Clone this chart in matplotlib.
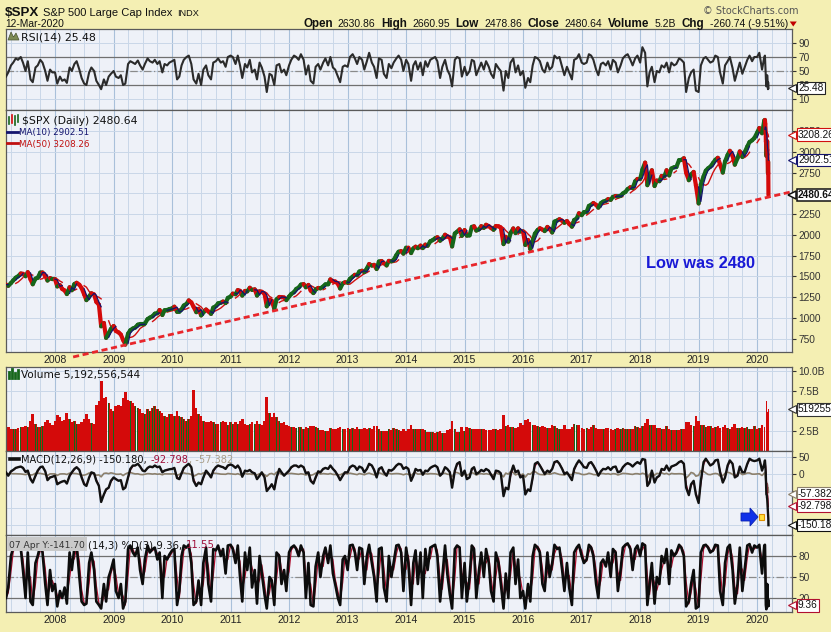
import numpy as np
import pandas as pd
import matplotlib
matplotlib.use('Agg')
import matplotlib.pyplot as plt
import matplotlib.dates as mdates
from matplotlib.collections import LineCollection
from matplotlib.patches import Polygon, Rectangle
from matplotlib.lines import Line2D
from matplotlib.transforms import IdentityTransform, blended_transform_factory

plt.rcParams['font.family'] = ['DejaVu Sans']

# ---------------- data (semi-monthly samples, then daily for the Feb/Mar 2020 drop) ----------------
semi_dates = pd.date_range('2007-03-01', '2020-02-15', freq='SMS')
crash_dates = pd.to_datetime(['2020-02-19', '2020-02-21', '2020-02-24', '2020-02-25', '2020-02-26',
                              '2020-02-27', '2020-02-28', '2020-03-02', '2020-03-03', '2020-03-04',
                              '2020-03-05', '2020-03-06', '2020-03-09', '2020-03-10', '2020-03-11',
                              '2020-03-12'])

close_semi = [
    1403, 1387, 1421, 1452, 1486, 1501, 1536, 1532, 1503, 1552, 1465, 1406, 1474, 1484, 1547, 1548, 1508, 1451, 1481, 1468,
    1468, 1380, 1395, 1349, 1331, 1288, 1370, 1334, 1409, 1424, 1400, 1360, 1284, 1215, 1260, 1298, 1283, 1193, 1161, 900, 940, 760, 816, 868,
    903, 843, 826, 800, 735, 680, 811, 852, 873, 883, 919, 923, 923, 932, 987, 1004, 1021, 1052, 1057, 1096, 1036, 1093, 1096, 1107,
    1115, 1136, 1074, 1075, 1104, 1150, 1169, 1212, 1187, 1135, 1070, 1110, 1031, 1065, 1102, 1079, 1049, 1125, 1141, 1176, 1183, 1198, 1180, 1242,
    1258, 1293, 1286, 1336, 1327, 1270, 1326, 1320, 1364, 1338, 1345, 1270, 1321, 1316, 1292, 1140, 1219, 1209, 1110, 1224, 1253, 1251, 1247, 1215,
    1258, 1289, 1312, 1350, 1366, 1402, 1408, 1370, 1398, 1330, 1300, 1342, 1362, 1357, 1379, 1405, 1406, 1465, 1441, 1440, 1412, 1355, 1416, 1430,
    1426, 1472, 1498, 1520, 1515, 1560, 1569, 1552, 1597, 1650, 1631, 1640, 1590, 1680, 1686, 1661, 1633, 1688, 1682, 1698, 1757, 1798, 1806, 1775,
    1848, 1848, 1782, 1838, 1859, 1841, 1872, 1842, 1884, 1870, 1924, 1937, 1960, 1973, 1931, 1955, 2003, 1984, 1972, 1862, 2018, 2039, 2068, 1990,
    2059, 1992, 1995, 2097, 2105, 2053, 2068, 2106, 2086, 2123, 2107, 2084, 2063, 2108, 2104, 2091, 1890, 1978, 1920, 2023, 2079, 2023, 2080, 2043,
    2044, 1880, 1940, 1830, 1932, 2016, 2060, 2081, 2065, 2047, 2097, 2072, 2030, 2161, 2174, 2190, 2171, 2147, 2168, 2133, 2100, 2180, 2199, 2262,
    2239, 2275, 2279, 2350, 2364, 2385, 2363, 2329, 2384, 2402, 2412, 2432, 2423, 2459, 2470, 2465, 2472, 2500, 2519, 2553, 2575, 2565, 2648, 2675,
    2674, 2786, 2872, 2600, 2714, 2780, 2590, 2656, 2648, 2711, 2705, 2780, 2718, 2801, 2816, 2818, 2902, 2904, 2925, 2750, 2660, 2730, 2760, 2600,
    2380, 2610, 2706, 2775, 2803, 2822, 2867, 2905, 2930, 2850, 2752, 2886, 2964, 3014, 2953, 2847, 2926, 3007, 2940, 2995, 3066, 3120, 3141, 3168,
    3231, 3289, 3226, 3380,
]
close_crash = [3386, 3338, 3226, 3128, 3116, 2979, 2954, 3090, 3003, 3130, 3024, 2972, 2747, 2882, 2741, 2480.64]

volume_semi = [  # billions
    2.9, 3.0, 2.8, 2.7, 2.8, 2.9, 3.0, 3.0, 3.1, 3.0, 3.8, 4.6, 3.4, 3.0, 3.0, 3.1, 3.6, 3.9, 3.5, 3.3,
    3.8, 4.5, 4.3, 3.8, 3.9, 4.8, 4.0, 3.6, 3.7, 3.4, 3.4, 3.6, 4.0, 4.6, 4.0, 3.5, 3.4, 5.8, 6.2, 8.8, 6.6, 6.8, 6.0, 5.2,
    5.0, 5.6, 5.8, 5.6, 6.6, 7.4, 6.4, 6.2, 6.0, 5.6, 5.4, 5.2, 4.8, 4.6, 5.2, 5.0, 5.4, 5.6, 5.2, 5.0, 4.8, 4.4, 4.2, 4.6,
    4.6, 4.4, 5.0, 4.4, 4.2, 4.0, 3.8, 4.0, 4.4, 7.6, 5.4, 4.6, 4.4, 3.8, 3.6, 3.6, 3.8, 3.6, 3.4, 3.4, 3.6, 3.8, 3.6, 3.2,
    3.6, 3.4, 3.6, 3.4, 3.8, 4.0, 3.4, 3.3, 3.4, 3.6, 3.4, 3.8, 3.4, 3.3, 3.8, 6.8, 4.8, 4.2, 4.8, 4.2, 3.8, 3.5, 3.6, 3.2,
    3.1, 3.0, 3.0, 2.9, 3.0, 3.0, 2.8, 3.0, 2.9, 3.1, 3.1, 3.0, 2.9, 2.6, 2.6, 2.5, 2.5, 2.9, 2.7, 2.7, 2.9, 3.0, 2.7, 2.8,
    2.9, 2.8, 2.9, 2.8, 3.0, 2.7, 2.7, 2.9, 2.7, 2.9, 2.8, 3.1, 3.1, 2.7, 2.5, 2.5, 2.5, 2.7, 2.6, 2.9, 2.7, 2.6, 2.5, 2.7,
    2.5, 2.7, 3.3, 2.7, 2.7, 2.8, 2.7, 2.7, 2.6, 2.4, 2.4, 2.4, 2.3, 2.4, 2.5, 2.3, 2.2, 2.6, 2.7, 3.8, 2.7, 2.4, 2.4, 3.0,
    2.5, 3.0, 2.9, 2.7, 2.7, 2.8, 2.7, 2.7, 2.7, 2.6, 2.6, 2.6, 2.7, 2.7, 2.6, 2.8, 4.5, 3.1, 3.3, 3.0, 3.0, 2.9, 3.0, 3.5,
    3.2, 3.9, 4.0, 3.6, 3.3, 3.2, 3.1, 3.0, 3.1, 3.0, 2.9, 2.9, 3.3, 3.1, 2.9, 2.8, 2.7, 3.2, 2.7, 2.8, 3.0, 3.4, 3.2, 3.3,
    2.9, 2.8, 2.9, 2.8, 3.0, 3.2, 2.9, 2.7, 2.8, 2.7, 2.9, 2.9, 2.7, 2.6, 2.7, 2.9, 2.7, 2.9, 2.7, 2.7, 2.8, 2.8, 3.1, 3.0,
    2.9, 3.1, 3.5, 4.0, 3.2, 3.2, 3.2, 2.9, 2.9, 2.8, 2.8, 3.1, 2.7, 2.6, 2.6, 2.6, 2.6, 2.7, 2.8, 3.6, 3.6, 3.2, 3.1, 4.4,
    3.7, 3.3, 3.2, 3.0, 3.1, 3.1, 2.9, 3.0, 3.1, 2.9, 3.0, 3.3, 2.9, 2.8, 3.0, 3.4, 2.9, 2.9, 3.0, 2.9, 3.0, 2.8, 2.8, 3.1,
    2.8, 2.9, 3.3, 3.0,
]
volume_crash = [3.9, 3.9, 4.4, 4.5, 4.6, 5.4, 6.2, 5.0, 5.0, 4.6, 4.8, 4.9, 6.4, 5.5, 4.8, 5.19]

rsi_semi = [
    42, 48, 58, 62, 68, 66, 70, 62, 50, 64, 38, 34, 55, 58, 66, 62, 50, 36, 52, 48,
    48, 32, 42, 36, 38, 33, 55, 50, 60, 64, 52, 40, 32, 30, 48, 55, 50, 36, 30, 24, 38, 30, 42, 46,
    50, 42, 40, 44, 30, 32, 60, 64, 62, 60, 65, 58, 52, 60, 68, 64, 62, 66, 60, 64, 48, 60, 58, 62,
    64, 66, 38, 42, 58, 66, 70, 72, 60, 38, 32, 46, 30, 52, 58, 44, 38, 62, 64, 68, 62, 64, 56, 70,
    72, 70, 60, 72, 58, 40, 60, 55, 66, 48, 52, 38, 62, 55, 42, 20, 46, 44, 30, 58, 60, 48, 52, 44,
    58, 66, 72, 70, 66, 74, 66, 45, 58, 36, 32, 56, 60, 52, 62, 68, 58, 70, 55, 52, 42, 34, 56, 58,
    56, 70, 74, 68, 60, 70, 66, 52, 64, 76, 62, 56, 40, 68, 66, 46, 40, 60, 54, 62, 68, 72, 66, 50,
    66, 60, 36, 58, 64, 52, 62, 44, 64, 56, 66, 68, 70, 64, 40, 56, 66, 52, 44, 28, 66, 70, 68, 42,
    56, 44, 50, 66, 64, 44, 54, 62, 52, 64, 56, 46, 40, 60, 54, 50, 22, 50, 40, 62, 68, 48, 58, 44,
    50, 26, 40, 34, 58, 70, 68, 64, 52, 48, 62, 52, 56, 72, 68, 70, 56, 44, 56, 48, 38, 66, 68, 74,
    62, 60, 62, 74, 72, 66, 52, 44, 60, 62, 58, 64, 52, 66, 62, 48, 58, 68, 72, 74, 66, 58, 68, 72,
    62, 84, 76, 28, 48, 56, 34, 50, 48, 58, 55, 62, 48, 62, 58, 60, 68, 66, 62, 20, 40, 48, 52, 22,
    20, 58, 68, 70, 66, 62, 64, 72, 70, 48, 32, 58, 64, 70, 54, 36, 50, 62, 46, 55, 66, 72, 64, 70,
    70, 76, 52, 70,
]
rsi_crash = [72, 62, 45, 38, 37, 29, 28, 40, 36, 44, 39, 37, 24, 34, 30, 25.48]

macd_semi = [
    5, -5, 8, 12, 18, 20, 22, 18, 6, 10, -15, -25, -5, 10, 20, 22, 8, -18, -10, -8,
    -5, -30, -25, -22, -20, -28, -5, 5, 15, 20, 12, -10, -30, -35, -10, 5, 2, -20, -35, -82, -60, -45, -40, -20,
    -10, -15, -20, -18, -45, -40, -10, 15, 25, 25, 30, 22, 10, 8, 18, 22, 20, 25, 20, 22, 5, 10, 12, 14,
    15, 18, -12, -15, 2, 18, 25, 30, 20, -20, -35, -25, -30, -10, 10, 2, -10, 10, 20, 25, 22, 20, 15, 25,
    28, 25, 18, 25, 15, -8, 10, 8, 12, 5, 2, -15, -5, 5, -10, -50, -40, -30, -45, -10, 15, 5, -5, 2,
    10, 20, 25, 25, 20, 25, 20, 2, 5, -20, -28, -10, 8, 5, 15, 18, 15, 25, 15, 8, -5, -18, -5, 5,
    5, 20, 25, 22, 12, 22, 18, 5, 15, 30, 25, 12, -10, 15, 20, 5, -5, 12, 10, 15, 25, 30, 28, 15,
    20, 15, -20, -5, 15, 10, 12, -2, 10, 8, 18, 22, 25, 20, -5, 2, 20, 15, 5, -40, 10, 30, 35, -5,
    10, -15, -10, 15, 20, 0, 5, 12, 8, 15, 10, -2, -15, 10, 8, 2, -65, -40, -45, 0, 25, 5, 10, -10,
    -5, -60, -45, -50, -10, 30, 35, 25, 12, 0, 10, 5, 15, 35, 38, 30, 15, 0, 5, -5, -18, 15, 30, 40,
    30, 20, 18, 32, 35, 25, 10, -5, 8, 15, 14, 20, 12, 20, 22, 5, 8, 20, 28, 32, 28, 22, 30, 35,
    30, 44, 42, -35, -25, 10, -25, -10, -5, 15, 12, 25, 10, 22, 25, 28, 35, 38, 30, -40, -62, -30, -20, -60,
    -85, -20, 35, 45, 35, 25, 30, 40, 42, 5, -25, -10, 25, 40, 30, -10, -5, 22, 5, 5, 30, 45, 40, 38,
    40, 45, 10, 30,
]
macd_crash = [40, 28, 5, -12, -25, -45, -60, -62, -70, -72, -80, -88, -110, -118, -130, -150.18]

stoch_semi = [
    20, 35, 80, 92, 95, 90, 92, 60, 20, 85, 15, 10, 70, 80, 95, 85, 40, 10, 60, 30,
    40, 8, 30, 20, 35, 12, 85, 60, 92, 95, 50, 15, 10, 12, 70, 85, 60, 15, 10, 5, 40, 15, 50, 60,
    75, 30, 20, 40, 5, 15, 90, 95, 85, 80, 92, 60, 40, 75, 95, 85, 90, 92, 75, 85, 20, 80, 75, 82,
    88, 90, 10, 30, 80, 95, 92, 96, 70, 10, 15, 45, 10, 70, 92, 40, 15, 90, 88, 95, 80, 90, 55, 95,
    96, 90, 70, 95, 50, 15, 85, 60, 92, 35, 60, 12, 80, 55, 25, 5, 50, 45, 10, 85, 80, 40, 60, 30,
    85, 92, 95, 90, 80, 95, 85, 20, 70, 10, 8, 65, 85, 50, 80, 92, 70, 95, 55, 40, 20, 10, 75, 80,
    60, 95, 96, 85, 60, 92, 90, 40, 80, 96, 70, 50, 15, 90, 92, 35, 15, 80, 50, 70, 95, 96, 85, 30,
    92, 70, 10, 70, 88, 40, 85, 20, 90, 60, 92, 94, 96, 80, 15, 50, 95, 55, 25, 5, 90, 95, 92, 20,
    70, 15, 50, 95, 90, 20, 60, 85, 50, 90, 70, 30, 15, 85, 70, 40, 5, 55, 20, 85, 92, 40, 75, 20,
    30, 5, 40, 15, 80, 96, 92, 85, 40, 30, 85, 50, 70, 96, 90, 92, 60, 30, 70, 35, 10, 85, 92, 96,
    80, 70, 75, 96, 92, 80, 40, 20, 70, 75, 65, 85, 50, 90, 85, 30, 60, 92, 96, 98, 90, 60, 90, 95,
    80, 98, 95, 10, 40, 70, 12, 50, 40, 80, 70, 90, 40, 88, 80, 85, 96, 92, 80, 8, 15, 40, 60, 5,
    8, 85, 95, 96, 92, 85, 88, 96, 95, 30, 10, 70, 92, 96, 60, 12, 40, 92, 30, 60, 95, 97, 85, 95,
    92, 96, 55, 95,
]
stoch_crash = [96, 70, 20, 10, 8, 5, 4, 25, 20, 40, 30, 25, 8, 18, 12, 9.36]

rsi_ticks = [10, 30, 50, 70, 90]
price_ticks = [750, 1000, 1250, 1500, 1750, 2000, 2250, 2500, 2750, 3000, 3250]
vol_ticks = [2.5, 5.0, 7.5, 10.0]
vol_tick_labels = ['2.5B', '5.0B', '7.5B', '10.0B']
macd_ticks = [50, 0, -50, -100, -150]
stoch_ticks = [20, 50, 80]

trend_dates = ['2008-04-23', '2020-08-06']
trend_values = [530, 2522]

last_close = 2480.64
ma10_last, ma50_last = 2902.51, 3208.26
rsi_last = 25.48
macd_vals = (-150.180, -92.798, -57.382)
stoch_vals = (9.36, 11.55)
volume_last = 5192556544

# ---------------- assemble ----------------
dates = semi_dates.append(crash_dates)
close = np.array(close_semi + close_crash, dtype=float)
volume = np.array(volume_semi + volume_crash, dtype=float)
rsi = np.array(rsi_semi + rsi_crash, dtype=float)
macd = pd.Series(macd_semi + macd_crash, index=dates, dtype=float)
stoch_k = pd.Series(stoch_semi + stoch_crash, index=dates, dtype=float)

price = pd.Series(close, index=dates)
daily = price.resample('B').ffill()
ma10 = daily.rolling(10, min_periods=1).mean().reindex(dates)
ma50 = daily.rolling(50, min_periods=1).mean().reindex(dates)
signal = macd.ewm(halflife=pd.Timedelta(days=5.5), times=macd.index).mean()
hist = macd - signal
stoch_d = stoch_k.rolling(2, min_periods=1).mean()

x = mdates.date2num(dates)

# ---------------- figure ----------------
W, H = 831, 632
BG = '#f4efb3'
PBG = '#eef1f8'
GRID = '#c9d7e8'
GRID_DARK = '#a9c0da'
UPC = '#16661a'
DNC = '#d40a0a'
X0 = mdates.date2num(pd.Timestamp('2007-03-01'))
X1 = mdates.date2num(pd.Timestamp('2020-08-06'))

fig = plt.figure(figsize=(W / 100, H / 100), dpi=100, facecolor=BG)


def axes_px(top, bottom, left=6, right=792):
    return fig.add_axes([left / W, 1 - bottom / H, (right - left) / W, (bottom - top) / H])


def style(ax, ticks, ylim, labels=None):
    ax.set_facecolor(PBG)
    ax.set_xlim(X0, X1)
    ax.set_ylim(*ylim)
    ax.yaxis.tick_right()
    ax.set_yticks(ticks)
    ax.set_yticklabels(labels if labels is not None else [str(t) for t in ticks])
    ax.tick_params(axis='y', direction='out', length=3, width=0.8, pad=1.5, labelsize=7.3,
                   colors='#333333', labelfontfamily='Liberation Sans')
    ax.xaxis.set_major_locator(mdates.YearLocator())
    ax.xaxis.set_minor_locator(mdates.MonthLocator(bymonth=[4, 7, 10]))
    ax.xaxis.set_major_formatter(mdates.DateFormatter('%Y'))
    ax.tick_params(axis='x', which='both', length=0, labelsize=7.6, pad=2.5, colors='#222222',
                   labelbottom=False, labelfontfamily='Liberation Sans')
    ax.grid(True, which='major', axis='x', color=GRID_DARK, lw=0.8)
    ax.grid(True, which='minor', axis='x', color=GRID, lw=0.7)
    ax.grid(True, which='major', axis='y', color=GRID, lw=0.7)
    ax.set_axisbelow(True)
    for s in ax.spines.values():
        s.set_color('#5a5a5a')
        s.set_linewidth(0.9)


def tag(ax, y, s, ec, bold=False, lw=0.8):
    tr = blended_transform_factory(ax.transAxes, ax.transData)
    ax.annotate(s, xy=(1, y), xycoords=tr, xytext=(6, 0), textcoords='offset pixels',
                ha='left', va='center', fontsize=7.3, family='Liberation Sans',
                weight='bold' if bold else 'normal', color='#111111',
                bbox=dict(boxstyle='square,pad=0.12', fc='white', ec=ec, lw=lw),
                annotation_clip=False, zorder=20)
    ax.plot([1.0], [y], transform=tr, marker='<', ms=5.5, mfc='white', mec=ec, mew=lw,
            clip_on=False, zorder=21)


def fig_line(xs, ys, **kw):
    fig.add_artist(Line2D(xs, [H - v for v in ys], transform=IdentityTransform(), **kw))


def fig_poly(pts, **kw):
    fig.add_artist(Polygon([(a, H - b) for a, b in pts], closed=True,
                           transform=IdentityTransform(), **kw))


renderer = fig.canvas.get_renderer()


def chain(x_px, y_px, parts, **common):
    xx = x_px
    for s, kw, gap in parts:
        opts = dict(common)
        opts.update(kw)
        t = fig.text(xx / W, 1 - y_px / H, s, va='baseline', ha='left', **opts)
        xx += t.get_window_extent(renderer=renderer).width + gap
    return xx


# ---- RSI ----
ax_rsi = axes_px(29, 110)
style(ax_rsi, rsi_ticks, (-5.7, 110))
for lv in (30, 70):
    ax_rsi.axhline(lv, color='#707070', lw=0.9, zorder=1)
ax_rsi.axhline(50, color='#8a8a8a', lw=0.9, ls=(0, (6, 2, 1, 2)), zorder=1)
ax_rsi.plot(x, rsi, color='#2b2b2b', lw=1.5, zorder=3)
tag(ax_rsi, rsi_last, f'{rsi_last:.2f}', '#222222')

# ---- Price ----
ax_p = axes_px(110, 352)
style(ax_p, price_ticks, (590, 3506))
ax_p.tick_params(axis='x', labelbottom=True)
ax_p.plot(x, ma50.values, color='#d01010', lw=1.0, zorder=2)
pts = np.column_stack([x, close])
segs = np.stack([pts[:-1], pts[1:]], axis=1)
cols = np.where(np.diff(close) >= 0, UPC, DNC)
ax_p.add_collection(LineCollection(segs, colors=cols, linewidths=3.0, capstyle='round',
                                   joinstyle='round', zorder=3))
ax_p.plot(x, ma10.values, color='#14146e', lw=0.9, zorder=4)
ax_p.plot(mdates.date2num(pd.to_datetime(trend_dates)), trend_values, color='#e8262b', lw=2.0,
          ls=(0, (2.2, 1.3)), clip_on=False, zorder=5)
ax_p.text(0.8836, 0.366, 'Low was 2480', transform=ax_p.transAxes, ha='center', va='center',
          fontsize=11.8, weight='bold', color='#1a1ad6', family='Liberation Sans', zorder=6)
tag(ax_p, ma50_last, f'{ma50_last:.2f}', '#d01010')
tag(ax_p, ma10_last, f'{ma10_last:.2f}', '#14146e')
tag(ax_p, last_close, f'{last_close:.2f}', '#111111', bold=True, lw=1.1)

# ---- Volume ----
ax_v = axes_px(367, 451)
style(ax_v, vol_ticks, (0, 10.5), vol_tick_labels)
wid = np.append(np.diff(x), 1.0)
ax_v.bar(x, volume, width=wid * 1.02, color=DNC, lw=0, zorder=2)
up = np.append([False], np.diff(close) > 0)
ax_v.bar(x[up], volume[up], width=wid[up] * 0.3, color=UPC, lw=0, zorder=3)
tag(ax_v, volume_last / 1e9, str(volume_last)[:6], '#333333')

# ---- MACD ----
ax_m = axes_px(451, 535)
style(ax_m, macd_ticks, (-179, 67.6))
ax_m.plot(x, hist.values, color='#8c806c', lw=1.2, zorder=2)
ax_m.plot(x, signal.values, color='#b01030', lw=0.8, zorder=3)
ax_m.plot(x, macd.values, color='#111111', lw=1.7, zorder=4)
tag(ax_m, macd_vals[2], f'{macd_vals[2]:.3f}', '#8c806c')
tag(ax_m, macd_vals[1], f'{macd_vals[1]:.3f}', '#b01030')
tag(ax_m, macd_vals[0], f'{macd_vals[0]:.2f}', '#111111')

# ---- Stochastic ----
ax_s = axes_px(535, 612)
style(ax_s, stoch_ticks, (0, 110))
ax_s.tick_params(axis='x', labelbottom=True)
for lv in (20, 80):
    ax_s.axhline(lv, color='#707070', lw=0.9, zorder=1)
ax_s.axhline(50, color='#8a8a8a', lw=0.9, ls=(0, (6, 2, 1, 2)), zorder=1)
ax_s.plot(x, stoch_d.values, color='#b01030', lw=0.9, zorder=2)
ax_s.plot(x, stoch_k.values, color='#0c0c0c', lw=1.9, zorder=3)
tag(ax_s, stoch_vals[0], f'{stoch_vals[0]:.2f}', '#b01030')

# ---------------- header ----------------
chain(5, 16, [('$SPX', dict(fontsize=9.6, weight='bold'), 4),
              ('S&P 500 Large Cap Index', dict(fontsize=8.0), 5),
              ('INDX', dict(fontsize=6.6), 0)], family='Liberation Sans', color='#111111')
fig.text(5 / W, 1 - 27 / H, '12-Mar-2020', fontsize=7.4, family='Liberation Sans',
         va='baseline', color='#111111')
fig.text(703 / W, 1 - 14.5 / H, '\u00a9 StockCharts.com', fontsize=7.0, family='DejaVu Sans',
         va='baseline', color='#555555')
B = dict(weight='bold', fontsize=8.4)
N = dict(fontsize=7.5)
end_x = chain(303, 27, [
    ('Open', B, 5), ('2630.86', N, 6), ('High', B, 5), ('2660.95', N, 6), ('Low', B, 5),
    ('2478.86', N, 6), ('Close', B, 5), ('2480.64', N, 6), ('Volume', B, 5), ('5.2B', N, 6),
    ('Chg', B, 5), ('-260.74 (-9.51%)', N, 2)], family='Liberation Sans', color='#111111')
fig_poly([(end_x, 21.5), (end_x + 7, 21.5), (end_x + 3.5, 26.5)], fc='#c00000', ec='none')

# ---------------- panel labels ----------------
# RSI
fig_poly([(8, 40), (11, 32), (13.5, 37), (16, 33), (19, 40)], fc='#7d8b55', ec='#4a5530', lw=0.5)
fig.text(21 / W, 1 - 40 / H, 'RSI(14) 25.48', fontsize=7.9, va='baseline', color='#111111')
# Price
for xx, y0, y1, c in [(9, 117, 124, UPC), (12, 115, 123, DNC), (15, 116, 125, UPC), (18, 115, 122, UPC)]:
    fig_line([xx, xx], [y0, y1], color=c, lw=1.2)
fig.text(22 / W, 1 - 124 / H, '$SPX (Daily) 2480.64', fontsize=7.8, va='baseline', color='#111111')
fig_line([7, 18], [132, 132], color='#14146e', lw=2.0)
fig.text(19 / W, 1 - 135.5 / H, 'MA(10) 2902.51', fontsize=6.3, va='baseline', color='#14146e')
fig_line([7, 18], [143, 143], color='#c01010', lw=2.0)
fig.text(19 / W, 1 - 146.5 / H, 'MA(50) 3208.26', fontsize=6.3, va='baseline', color='#c01010')
# Volume
for xx, hh in [(9, 6), (12, 9), (15, 5), (18, 8)]:
    fig_line([xx, xx], [378, 378 - hh], color=UPC, lw=2.0)
fig.text(21 / W, 1 - 378 / H, 'Volume 5,192,556,544', fontsize=7.6, va='baseline', color='#111111')
# MACD
fig_line([10, 18.5], [459, 459], color='#111111', lw=2.6)
chain(21, 463, [('MACD(12,26,9) -150.180,', dict(color='#111111'), 4),
                ('-92.798', dict(color='#a0103a'), 0),
                (', -57.382', dict(color='#aa9f8a'), 0)], fontsize=7.1)
# Stoch
fig.add_artist(Rectangle((7, H - 551), 80, 14, transform=IdentityTransform(), fc='#c9c9c9',
                         ec='none', zorder=30))
fig.text(9 / W, 1 - 547.5 / H, '07 Apr Y:-141.70', fontsize=6.6, va='baseline', color='#333333',
         zorder=31)
chain(88, 548, [('(14,3) %D(3) 9.36,', dict(color='#111111'), 4),
                ('11.55', dict(color='#a0103a'), 0)], fontsize=7.3)

# MACD annotation arrow
fig_poly([(741, 513), (750, 513), (750, 508), (758, 517), (750, 526), (750, 521), (741, 521)],
         fc='#1030e8', ec='#0a20b0', lw=0.6, zorder=40)
fig.add_artist(Rectangle((759, H - 520), 5, 6, transform=IdentityTransform(), fc='#ffe040',
                         ec='#e09000', lw=0.8, zorder=40))

fig.savefig('out.png', dpi=100, facecolor=BG)
